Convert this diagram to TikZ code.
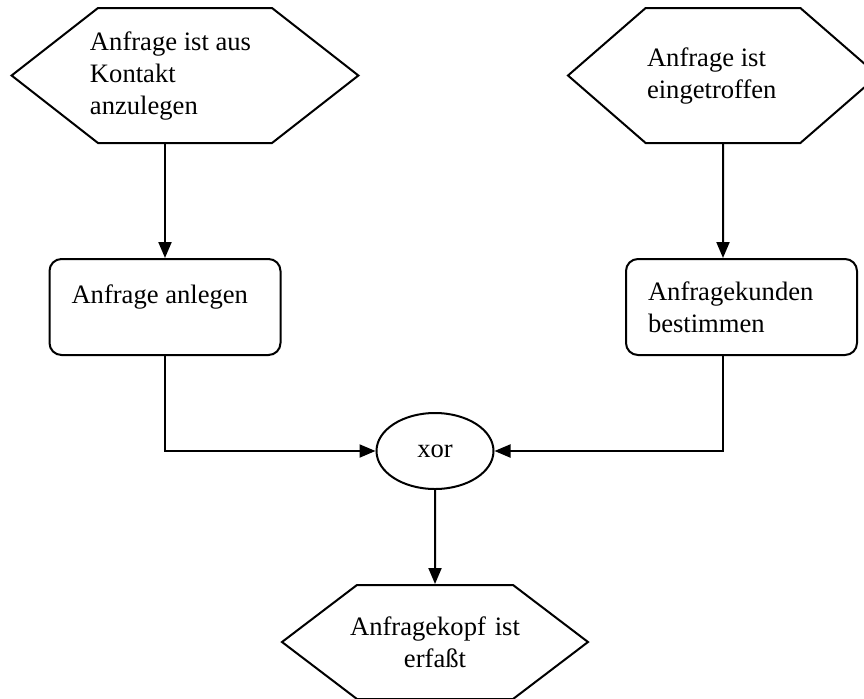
\documentclass[tikz,border=0pt]{standalone}
\usepackage{fontspec}
\setmainfont{Liberation Serif}
\usetikzlibrary{shapes.symbols, shapes.geometric, arrows.meta}

\begin{document}
\begin{tikzpicture}[->,>={Triangle[length=8pt,width=6.5pt]},x=0.5pt,y=-0.5pt,line width=1pt,
		font=\fontsize{13.3}{16}\selectfont,
		event/.style={shape=signal, signal to=west and east, draw, inner ysep=0pt},
		funcbox/.style={draw, rounded corners=6pt, inner sep=0pt, align=flush left, minimum width=115.5pt, minimum height=48pt, text width=93.5pt},]
			\useasboundingbox (0, 0) rectangle (864, 698);
			\clip (0, 0) rectangle (864, 698);
			\node[event, align=flush left, minimum width=173pt, minimum height=67.5pt, signal pointer angle=76, text width=95pt, inner xsep=-4pt] at (185, 75.5) (ev-kontakt) {Anfrage ist aus\\Kontakt\\anzulegen};
			\node[event, align=flush left, minimum width=155pt, minimum height=67.5pt, signal pointer angle=82, text width=76pt, inner xsep=0pt] at (723, 75.5) (ev-eingang) {Anfrage ist\\eingetroffen};
			\node[funcbox, text height=10pt, text depth=14pt] at (165, 307) (anlegen) {Anfrage anlegen};
			\node[funcbox] at (741.5, 307) (kunden) {Anfragekunden\\bestimmen};
			\node[ellipse, draw, minimum width=58.5pt, minimum height=38pt, inner sep=0pt] at (435, 451) (xor) {xor};
			\node[event, align=center, minimum width=153pt, minimum height=57pt, signal pointer angle=74.5, text width=90pt, inner xsep=-6.25pt] at (435, 642) (ev-kopf) {Anfragekopf ist\\erfaßt};

			\draw (ev-kontakt.south -| anlegen) -- (anlegen);
			\draw (ev-eingang) -- (ev-eingang |- kunden.north);
			\draw (anlegen) |- (xor);
			\draw (kunden.south -| ev-eingang) |- (xor);
			\draw (xor) -- (ev-kopf);
		\end{tikzpicture}
\end{document}
